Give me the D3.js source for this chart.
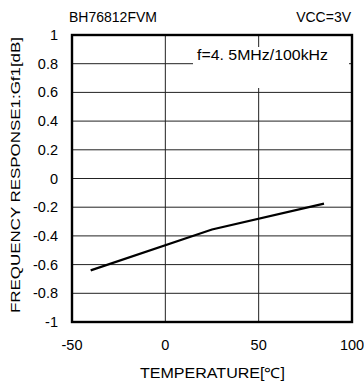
<!DOCTYPE html>
<html><head><meta charset="utf-8">
<script src="https://cdn.jsdelivr.net/npm/d3@7"></script>
<style>body{margin:0;background:#fff;}svg{display:block;font-family:"Liberation Sans",Arial,sans-serif;}</style>
</head><body>
<svg id="c" width="364" height="387"></svg>
<script>
const temps = [-40, 25, 85];
const gain = [-0.64, -0.355, -0.175];
const xTicks = [-50, 0, 50, 100];
const yTicks = [1, 0.8, 0.6, 0.4, 0.2, 0, -0.2, -0.4, -0.6, -0.8, -1];

const svg = d3.select("#c");
const L = 72, R = 352, T = 35, B = 322;
const x = d3.scaleLinear().domain([-50, 100]).range([L, R]);
const y = d3.scaleLinear().domain([-1, 1]).range([B, T]);

// grid
svg.append("g").selectAll("line").data(yTicks).join("line")
  .attr("x1", L).attr("x2", R).attr("y1", d => y(d)).attr("y2", d => y(d))
  .attr("stroke", "#222").attr("stroke-width", 1);
svg.append("g").selectAll("line").data(xTicks).join("line")
  .attr("y1", T).attr("y2", B).attr("x1", d => x(d)).attr("x2", d => x(d))
  .attr("stroke", "#222").attr("stroke-width", 1);

// label box
svg.append("rect").attr("x", 193).attr("y", 47).attr("width", 156).attr("height", 41).attr("fill", "#fff");
svg.append("text").attr("x", 197).attr("y", 60).attr("font-size", 14)
  .attr("textLength", 131).attr("lengthAdjust", "spacingAndGlyphs").attr("fill", "#000").text("f=4. 5MHz/100kHz");

// data line
svg.append("path").datum(temps.map((t, i) => [t, gain[i]]))
  .attr("d", d3.line().x(d => x(d[0])).y(d => y(d[1])))
  .attr("fill", "none").attr("stroke", "#000").attr("stroke-width", 2.2);

// frame
svg.append("rect").attr("x", L).attr("y", T).attr("width", R - L).attr("height", B - T)
  .attr("fill", "none").attr("stroke", "#000").attr("stroke-width", 2.4);

// tick labels
svg.append("g").selectAll("text").data(yTicks).join("text")
  .attr("x", 58).attr("y", d => y(d) + 5).attr("text-anchor", "end").attr("font-size", 14.5).text(d => d);
svg.append("g").selectAll("text").data(xTicks).join("text")
  .attr("x", d => x(d)).attr("y", 350).attr("text-anchor", "middle").attr("font-size", 14.5).text(d => d);

// titles
svg.append("text").attr("x", 140).attr("y", 378).attr("font-size", 14)
  .attr("textLength", 145).attr("lengthAdjust", "spacingAndGlyphs").text("TEMPERATURE[℃]");
svg.append("text").attr("transform", "translate(20,313) rotate(-90)").attr("font-size", 13.5)
  .attr("textLength", 276).attr("lengthAdjust", "spacingAndGlyphs").text("FREQUENCY RESPONSE1:Gf1[dB]");
svg.append("text").attr("x", 69).attr("y", 22).attr("font-size", 14).text("BH76812FVM");
svg.append("text").attr("x", 351).attr("y", 22).attr("text-anchor", "end").attr("font-size", 14).text("VCC=3V");
</script>
</body></html>
